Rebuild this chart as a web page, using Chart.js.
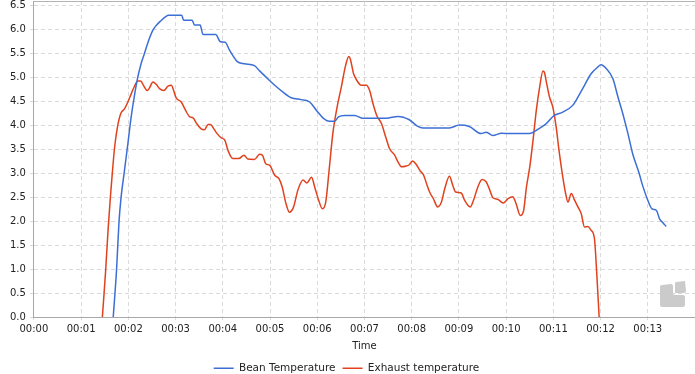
<!DOCTYPE html>
<html>
<head>
<meta charset="utf-8">
<script src="https://cdn.jsdelivr.net/npm/chart.js@4/dist/chart.umd.min.js"></script>
<style>
  html, body { margin: 0; padding: 0; background: #fff; }
  #wrap { width: 695px; height: 374px; position: relative; }
</style>
</head>
<body>
<div id="wrap"><canvas id="chart"></canvas></div>
<script>
// x values are minutes since start
const xTickLabels = ['00:00', '00:01', '00:02', '00:03', '00:04', '00:05', '00:06',
  '00:07', '00:08', '00:09', '00:10', '00:11', '00:12', '00:13']

const beanTimes = [1.68, 1.75, 1.80, 1.84, 1.91, 1.99, 2.06, 2.13, 2.20, 2.27, 2.34, 2.41, 2.52, 2.60,
  2.68, 2.80, 2.85, 3.13, 3.17, 3.35, 3.40, 3.52, 3.58, 3.85, 3.95, 4.05, 4.14, 4.22, 4.30, 4.46,
  4.67, 4.78, 4.99, 5.10, 5.27, 5.45, 5.66, 5.84, 5.98, 6.12, 6.26, 6.37, 6.45, 6.58, 6.79, 6.97,
  7.20, 7.46, 7.71, 7.95, 8.13, 8.24, 8.50, 8.80, 9.01, 9.22, 9.47, 9.58, 9.72, 9.90, 10.10, 10.28,
  10.50, 10.64, 10.85, 11.02, 11.20, 11.41, 11.52, 11.66, 11.80, 11.94, 12.01, 12.12, 12.26, 12.37,
  12.47, 12.58, 12.68, 12.82, 12.88, 13.00, 13.09, 13.18, 13.25, 13.33, 13.39]
const beanValues = [0, 0.98, 1.95, 2.44, 3.0, 3.62, 4.18, 4.63, 5.01, 5.29, 5.50, 5.72, 5.99, 6.10,
  6.18, 6.28, 6.30, 6.30, 6.20, 6.20, 6.10, 6.10, 5.90, 5.90, 5.75, 5.74, 5.58, 5.45, 5.34, 5.29,
  5.25, 5.14, 4.94, 4.84, 4.70, 4.58, 4.54, 4.49, 4.32, 4.16, 4.09, 4.09, 4.18, 4.21, 4.21, 4.15,
  4.15, 4.15, 4.19, 4.12, 3.98, 3.95, 3.95, 3.95, 4.01, 3.98, 3.83, 3.86, 3.79, 3.84, 3.83, 3.83,
  3.83, 3.90, 4.04, 4.21, 4.28, 4.42, 4.59, 4.84, 5.08, 5.22, 5.27, 5.19, 4.98, 4.59,
  4.25, 3.83, 3.41, 2.99, 2.78, 2.44, 2.26, 2.23, 2.05, 1.96, 1.89]

const exhaustTimes = [1.45, 1.52, 1.57, 1.62, 1.66, 1.71, 1.77, 1.84, 1.92, 1.99, 2.06, 2.13, 2.20, 2.26,
  2.33, 2.40, 2.45, 2.52, 2.59, 2.66, 2.75, 2.84, 2.91, 2.96, 3.01, 3.12, 3.21, 3.30, 3.37, 3.44,
  3.54, 3.61, 3.69, 3.74, 3.81, 3.88, 3.97, 4.04, 4.11, 4.21, 4.34, 4.45, 4.53, 4.67, 4.78, 4.84,
  4.91, 4.99, 5.10, 5.19, 5.26, 5.33, 5.41, 5.50, 5.59, 5.70, 5.78, 5.88, 5.95, 6.03, 6.11, 6.18,
  6.25, 6.33, 6.42, 6.51, 6.60, 6.67, 6.70, 6.77, 6.84, 6.93, 7.04, 7.11, 7.18, 7.26, 7.36, 7.45,
  7.53, 7.64, 7.71, 7.78, 7.87, 7.95, 8.02, 8.10, 8.18, 8.25, 8.31, 8.38, 8.46, 8.55, 8.63, 8.70,
  8.80, 8.87, 8.93, 9.05, 9.12, 9.24, 9.31, 9.40, 9.49, 9.58, 9.65, 9.72, 9.82, 9.94, 10.04, 10.14,
  10.21, 10.30, 10.37, 10.43, 10.50, 10.57, 10.64, 10.71, 10.78, 10.81, 10.86, 10.92, 10.99, 11.06,
  11.12, 11.19, 11.26, 11.31, 11.38, 11.45, 11.52, 11.59, 11.66, 11.73, 11.80, 11.87, 11.92, 11.97]
const exhaustValues = [0, 0.98, 1.81, 2.51, 3.0, 3.55, 3.97, 4.25, 4.35, 4.49, 4.66, 4.82, 4.93, 4.93,
  4.82, 4.73, 4.79, 4.91, 4.86, 4.77, 4.73, 4.82, 4.84, 4.73, 4.58, 4.49, 4.32, 4.18, 4.16, 4.05,
  3.93, 3.91, 4.02, 4.02, 3.93, 3.83, 3.74, 3.70, 3.48, 3.31, 3.31, 3.38, 3.30, 3.29, 3.40, 3.38,
  3.20, 3.17, 2.96, 2.89, 2.71, 2.40, 2.19, 2.30, 2.65, 2.86, 2.80, 2.92, 2.70, 2.44, 2.26, 2.40,
  3.05, 3.83, 4.38, 4.80, 5.25, 5.44, 5.39, 5.08, 4.94, 4.84, 4.84, 4.73, 4.46, 4.21, 4.04, 3.76,
  3.52, 3.38, 3.24, 3.14, 3.15, 3.18, 3.26, 3.18, 3.05, 2.97, 2.80, 2.61, 2.47, 2.30, 2.40, 2.68,
  2.94, 2.75, 2.61, 2.59, 2.44, 2.30, 2.44, 2.71, 2.87, 2.82, 2.66, 2.49, 2.46, 2.38, 2.47, 2.51,
  2.37, 2.12, 2.22, 2.71, 3.13, 3.69, 4.32, 4.80, 5.14, 5.11, 4.87, 4.59, 4.38, 3.97,
  3.48, 2.99, 2.58, 2.40, 2.58, 2.44, 2.30, 2.16, 1.88, 1.89, 1.81, 1.64, 0.90, 0]

const toPoints = (xs, ys) => xs.map((x, i) => ({ x: x, y: ys[i] }))

const FONT = "'DejaVu Sans', sans-serif"

// solid top border of the plot plus the grey watermark in the corner
const framePlugin = {
  id: 'frame',
  afterLayout(chart) {
    // nudge the legend a little to the left
    if (chart.legend) {
      chart.legend.left -= 4
      chart.legend.right -= 4
    }
  },
  afterDraw(chart) {
    const { ctx, chartArea: a } = chart
    ctx.save()
    ctx.strokeStyle = '#b4b4b4'
    ctx.lineWidth = 1
    ctx.beginPath()
    ctx.moveTo(a.left, a.top + 0.5)
    ctx.lineTo(a.right, a.top + 0.5)
    ctx.stroke()

    const x0 = a.right - 35
    const y0 = a.bottom - 36
    ctx.fillStyle = '#cbcbcb'
    ctx.beginPath()
    ctx.moveTo(x0 + 16, y0 + 1)
    ctx.lineTo(x0 + 25, y0)
    ctx.lineTo(x0 + 26, y0 + 10)
    ctx.quadraticCurveTo(x0 + 26, y0 + 12, x0 + 24, y0 + 12)
    ctx.lineTo(x0 + 15, y0 + 12)
    ctx.lineTo(x0 + 15, y0 + 3)
    ctx.quadraticCurveTo(x0 + 15, y0 + 1, x0 + 16, y0 + 1)
    ctx.fill()
    ctx.beginPath()
    ctx.moveTo(x0 + 2, y0 + 4)
    ctx.lineTo(x0 + 11, y0 + 3)
    ctx.quadraticCurveTo(x0 + 13, y0 + 3, x0 + 13, y0 + 5)
    ctx.lineTo(x0 + 13, y0 + 12)
    ctx.quadraticCurveTo(x0 + 13, y0 + 14, x0 + 15, y0 + 14)
    ctx.lineTo(x0 + 23, y0 + 14)
    ctx.quadraticCurveTo(x0 + 25, y0 + 14, x0 + 25, y0 + 16)
    ctx.lineTo(x0 + 25, y0 + 24)
    ctx.quadraticCurveTo(x0 + 25, y0 + 26, x0 + 23, y0 + 26)
    ctx.lineTo(x0 + 2, y0 + 26)
    ctx.quadraticCurveTo(x0, y0 + 26, x0, y0 + 24)
    ctx.lineTo(x0, y0 + 6)
    ctx.quadraticCurveTo(x0, y0 + 4, x0 + 2, y0 + 4)
    ctx.fill()
    ctx.restore()
  }
}

const ctx = document.getElementById('chart').getContext('2d')

new Chart(ctx, {
  type: 'line',
  data: {
    datasets: [
      {
        label: 'Bean Temperature',
        data: toPoints(beanTimes, beanValues),
        borderColor: '#3c6fd6',
        backgroundColor: '#3c6fd6',
        borderWidth: 1.5,
        pointRadius: 0,
        cubicInterpolationMode: 'monotone',
      },
      {
        label: 'Exhaust temperature',
        data: toPoints(exhaustTimes, exhaustValues),
        borderColor: '#e0421e',
        backgroundColor: '#e0421e',
        borderWidth: 1.5,
        pointRadius: 0,
        cubicInterpolationMode: 'monotone',
      },
    ],
  },
  options: {
    responsive: true,
    maintainAspectRatio: false,
    animation: false,
    layout: { padding: { left: 6, top: 1, right: 0, bottom: 0 } },
    plugins: {
      legend: {
        position: 'bottom',
        maxHeight: 18,
        labels: {
          usePointStyle: true,
          pointStyle: 'line',
          pointStyleWidth: 20,
          padding: 7,
          color: '#222',
          font: { size: 10.5, family: FONT },
        },
      },
      tooltip: { enabled: false },
    },
    scales: {
      x: {
        type: 'linear',
        min: 0,
        max: 14,
        afterBuildTicks: (scale) => {
          scale.ticks = scale.ticks.filter(t => t.value < 14)
        },
        afterFit: (scale) => {
          scale.paddingRight = 0
        },
        title: {
          display: true,
          text: 'Time',
          color: '#222',
          font: { size: 10, family: FONT },
          padding: { top: 2, bottom: 4 },
        },
        grid: {
          color: '#dadada',
          tickLength: 3,
        },
        border: { color: '#a8a8a8', width: 1, dash: [4, 3] },
        ticks: {
          stepSize: 1,
          padding: 3,
          maxRotation: 0,
          autoSkip: false,
          color: '#222',
          font: { size: 10, family: FONT },
          callback: (value) => xTickLabels[Math.round(value)] || '',
        },
      },
      y: {
        min: 0,
        max: 6.6,
        afterFit: (scale) => {
          scale.paddingTop = 0
        },
        grid: {
          color: '#dadada',
          tickLength: 4,
        },
        border: { color: '#a8a8a8', width: 1, dash: [4, 3] },
        ticks: {
          stepSize: 0.5,
          includeBounds: false,
          padding: 4,
          color: '#222',
          font: { size: 10, family: FONT },
          callback: (value) => value.toFixed(1),
        },
      },
    },
  },
  plugins: [framePlugin],
})
</script>
</body>
</html>
